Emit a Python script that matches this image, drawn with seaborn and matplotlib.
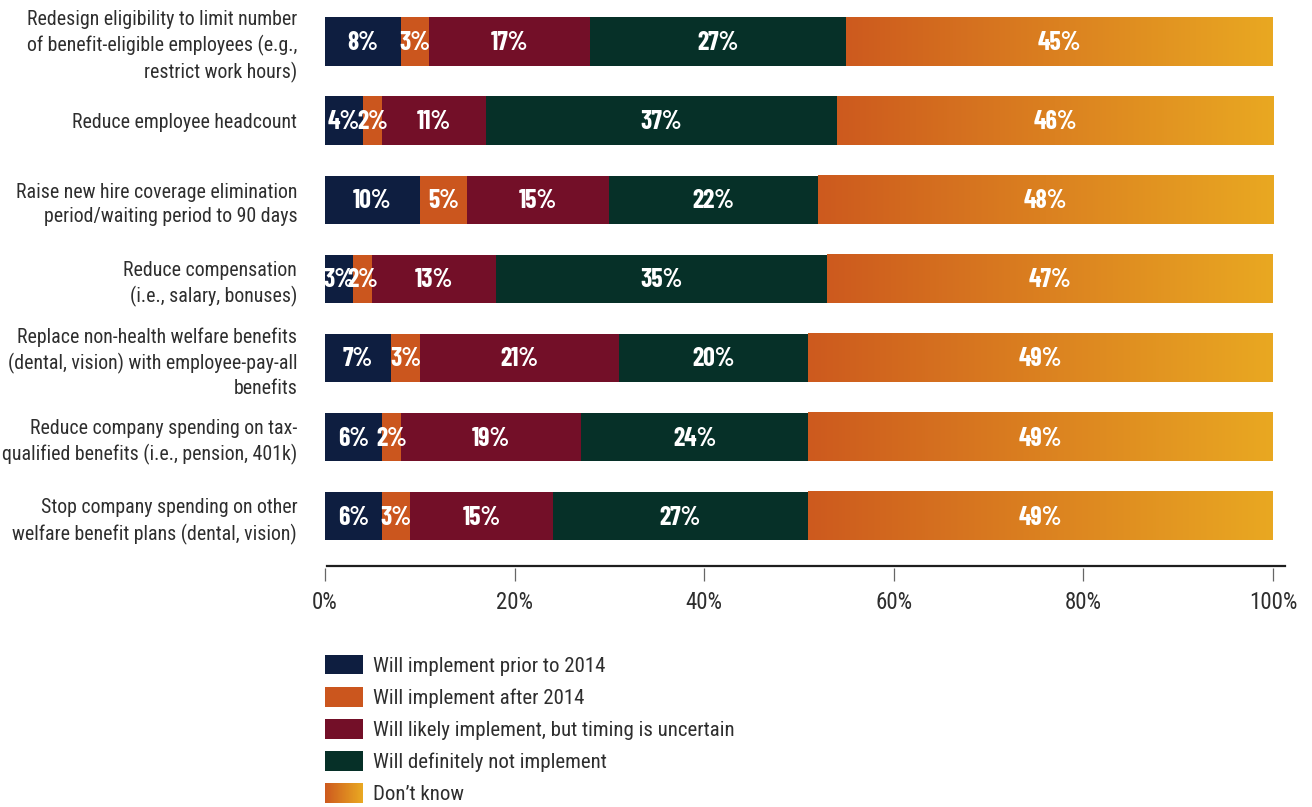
import numpy as np
import matplotlib
matplotlib.use("Agg")
import matplotlib.pyplot as plt
from matplotlib import font_manager
from matplotlib.patches import Rectangle
from matplotlib.colors import LinearSegmentedColormap
from matplotlib.legend_handler import HandlerBase
import seaborn as sns

# --- data -------------------------------------------------------------
categories = [
    "Redesign eligibility to limit number\nof benefit-eligible employees (e.g.,\nrestrict work hours)",
    "Reduce employee headcount",
    "Raise new hire coverage elimination\nperiod/waiting period to 90 days",
    "Reduce compensation\n(i.e., salary, bonuses)",
    "Replace non-health welfare benefits\n(dental, vision) with employee-pay-all\nbenefits",
    "Reduce company spending on tax-\nqualified benefits (i.e., pension, 401k)",
    "Stop company spending on other\nwelfare benefit plans (dental, vision)",
]
series_names = [
    "Will implement prior to 2014",
    "Will implement after 2014",
    "Will likely implement, but timing is uncertain",
    "Will definitely not implement",
    "Don\u2019t know",
]
prior_2014 = [8, 4, 10, 3, 7, 6, 6]
after_2014 = [3, 2, 5, 2, 3, 2, 3]
likely_uncertain = [17, 11, 15, 13, 21, 19, 15]
definitely_not = [27, 37, 22, 35, 20, 24, 27]
dont_know = [45, 46, 48, 47, 49, 49, 49]
x_ticks = [0, 20, 40, 60, 80, 100]

series_values = [prior_2014, after_2014, likely_uncertain, definitely_not, dont_know]

# --- fonts: prefer narrow families ------------------------------------
installed = {f.name for f in font_manager.fontManager.ttflist}


def pick(prefs):
    for p in prefs:
        if p in installed:
            return p
    return "DejaVu Sans"


TEXT_FONT = pick(["Roboto Condensed", "Barlow Semi Condensed", "Fira Sans Condensed",
                  "IBM Plex Sans Condensed", "Archivo Narrow", "PT Sans Narrow",
                  "Encode Sans Condensed", "Liberation Sans Narrow", "Roboto"])
LABEL_FONT = pick(["Barlow Condensed", "Roboto Condensed", "Fira Sans Extra Condensed",
                   "Oswald", "Open Sans Condensed", "Roboto"])
TEXT_FAM = [TEXT_FONT, "DejaVu Sans"]
LABEL_FAM = [LABEL_FONT, "DejaVu Sans"]

# --- style ------------------------------------------------------------
NAVY = "#0E1E40"
ORANGE = "#CB561E"
MAROON = "#730F28"
GREEN = "#063028"
GRAD_START = "#CD5A1E"
GRAD_END = "#E9A822"
solid_colors = [NAVY, ORANGE, MAROON, GREEN]
grad_cmap = LinearSegmentedColormap.from_list("dont_know", [GRAD_START, GRAD_END])

sns.set_style("white")
plt.rcParams["font.family"] = TEXT_FAM
TEXT_COLOR = "#2E2E2E"

fig = plt.figure(figsize=(13.12, 8.07), dpi=100)
W, H = 1312, 807
ax_left, ax_right, ax_top, ax_bottom = 325, 1273, 9, 566
ax = fig.add_axes([ax_left / W, 1 - ax_bottom / H,
                   (ax_right - ax_left) / W, (ax_bottom - ax_top) / H])

BAR_H = 0.61
vals = np.array(series_values, dtype=float)
cum_end = np.cumsum(vals, axis=0)
cum_start = cum_end - vals

# stacked bars: draw the running totals from the longest to the shortest
for k in range(len(series_values) - 1, -1, -1):
    color = GRAD_START if k == len(series_values) - 1 else solid_colors[k]
    sns.barplot(x=cum_end[k], y=categories, orient="h", color=color,
                saturation=1, width=BAR_H, linewidth=0, edgecolor="none", ax=ax)

# gradient fill for the "Don't know" segment
grad = np.linspace(0, 1, 256).reshape(1, -1)
for i in range(len(categories)):
    ax.imshow(grad, cmap=grad_cmap, aspect="auto", interpolation="bilinear",
              extent=(cum_start[-1][i], cum_end[-1][i], i + BAR_H / 2, i - BAR_H / 2),
              zorder=1.5)

# value labels centred in each segment
for k in range(len(series_values)):
    for i in range(len(categories)):
        v = vals[k][i]
        ax.text(cum_start[k][i] + v / 2, i + 0.02, f"{int(v)}%", ha="center", va="center",
                color="white", fontsize=18.5, fontweight="bold", family=LABEL_FAM, zorder=3)

ax.set_xlim(0, 100)
ax.set_ylim(6.63, -0.41)
ax.set_xlabel("")
ax.set_ylabel("")

# axes decoration
for s in ["top", "right", "left"]:
    ax.spines[s].set_visible(False)
ax.spines["bottom"].set_color("#1E1E1E")
ax.spines["bottom"].set_linewidth(1.6)
ax.spines["bottom"].set_bounds(0.2, 101.3)
ax.tick_params(axis="y", length=0, pad=20, labelsize=14.3, labelcolor=TEXT_COLOR)
for lbl in ax.get_yticklabels():
    lbl.set_linespacing(1.37)
    lbl.set_family(TEXT_FAM)
ax.tick_params(axis="x", length=0, labelbottom=False)

sec = ax.secondary_xaxis(-0.004)
sec.set_xticks(x_ticks)
sec.set_xticklabels([f"{t}%" for t in x_ticks])
for s in sec.spines.values():
    s.set_visible(False)
sec.tick_params(axis="x", direction="out", length=9.5, width=0.9, color="#666666",
                pad=7, labelsize=16.5, labelcolor=TEXT_COLOR)
for lbl in sec.get_xticklabels():
    lbl.set_family(TEXT_FAM)


# legend with a gradient swatch for "Don't know"
class GradientHandler(HandlerBase):
    def create_artists(self, legend, orig_handle, xdescent, ydescent,
                       width, height, fontsize, trans):
        n = 48
        out = []
        for j in range(n):
            out.append(Rectangle((-xdescent + width * j / n, -ydescent),
                                 width / n * 1.08, height,
                                 facecolor=grad_cmap(j / (n - 1)), edgecolor="none",
                                 linewidth=0, transform=trans))
        return out


handles = [Rectangle((0, 0), 1, 1, facecolor=c, edgecolor="none") for c in solid_colors]
grad_handle = Rectangle((0, 0), 1, 1, facecolor=GRAD_START, edgecolor="none")
handles.append(grad_handle)

leg = fig.legend(handles, series_names, loc="upper left",
                 bbox_to_anchor=(325 / W, 1 - 655 / H), frameon=False,
                 borderpad=0, borderaxespad=0,
                 handlelength=1.82, handleheight=1.06, labelspacing=0.54,
                 handletextpad=0.48, handler_map={grad_handle: GradientHandler()},
                 prop={"family": TEXT_FAM, "size": 15})
for t in leg.get_texts():
    t.set_color(TEXT_COLOR)

fig.savefig("out.png", dpi=100)
